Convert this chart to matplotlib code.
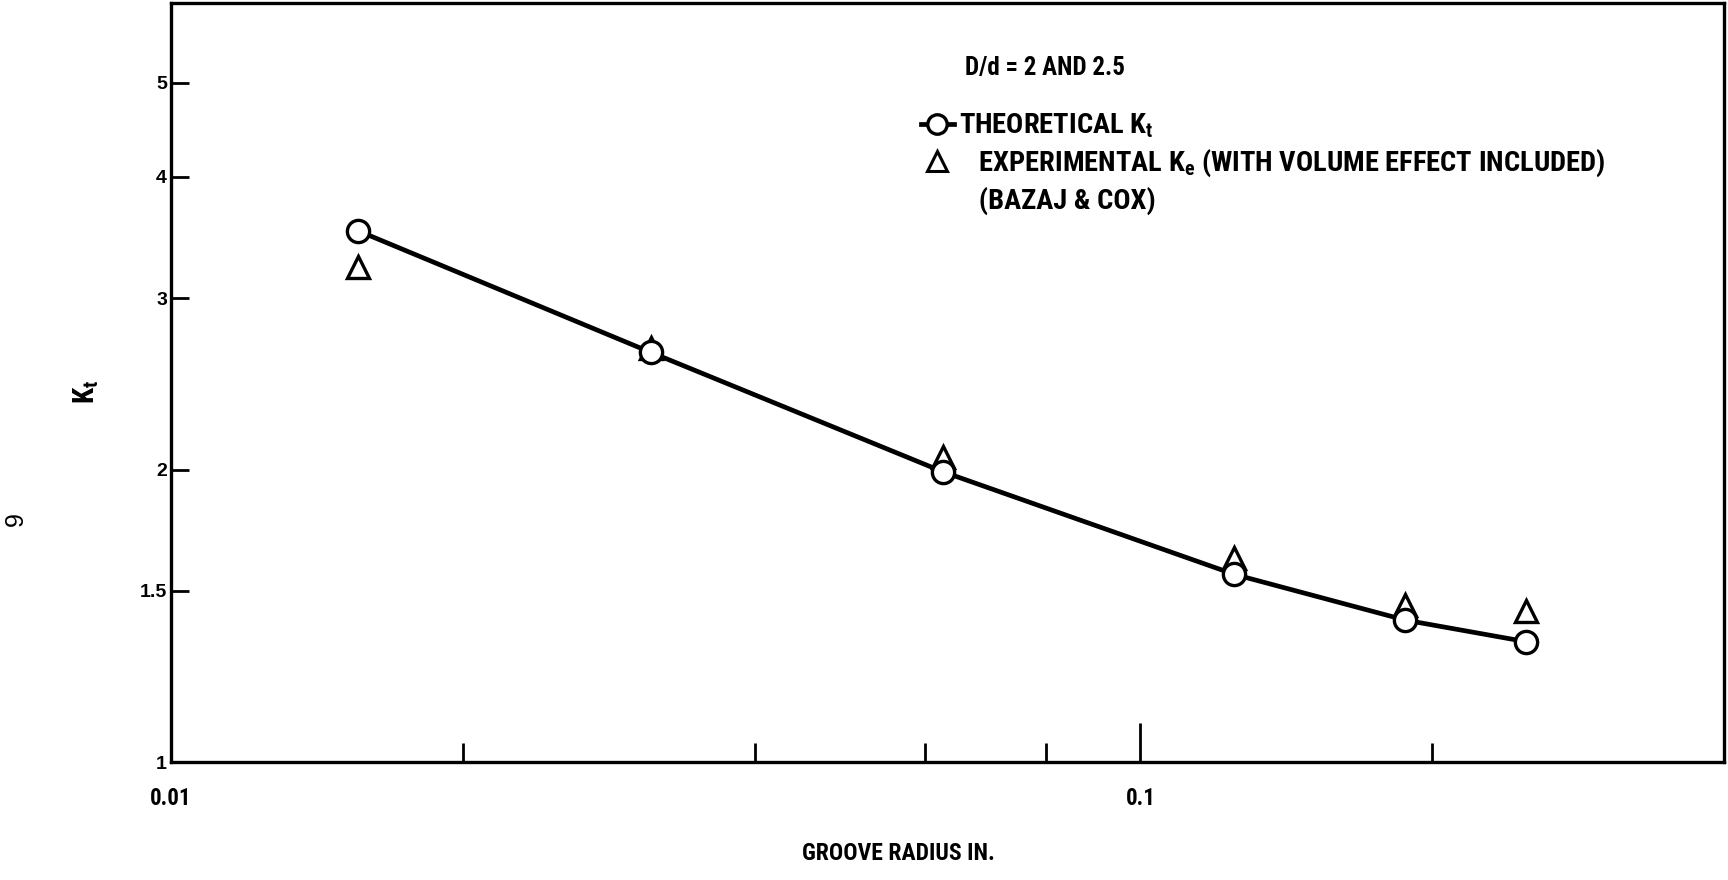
import matplotlib
matplotlib.use("Agg")
import matplotlib.pyplot as plt
from matplotlib.lines import Line2D

COND = ["Roboto Condensed", "Liberation Sans", "DejaVu Sans"]
plt.rcParams["mathtext.fontset"] = "custom"
plt.rcParams["mathtext.rm"] = "Roboto Condensed:bold"
plt.rcParams["mathtext.it"] = "Roboto Condensed:bold"

# groove radius (in.) and stress concentration factors
radius = [0.0156, 0.03125, 0.0625, 0.125, 0.1875, 0.25]
kt_theory = [3.52, 2.64, 1.99, 1.56, 1.40, 1.33]
ke_exper = [3.23, 2.67, 2.06, 1.62, 1.45, 1.43]

ytick_vals = [1, 1.5, 2, 3, 4, 5]
ytick_labels = ["1", "1.5", "2", "3", "4", "5"]
xmajor = [0.01, 0.1]
xmajor_labels = ["0.01", "0.1"]
xminor = [0.02, 0.04, 0.06, 0.08, 0.2]

fig = plt.figure(figsize=(17.28, 8.8), dpi=100)
ax = fig.add_axes([0.099, 0.134, 0.8987, 0.8626])

ax.plot(radius, kt_theory, color="black", lw=3.4, zorder=2)
ax.plot(radius, kt_theory, "o", ms=16, mfc="white", mec="black", mew=2.4, zorder=4)
ax.plot(radius, ke_exper, "^", ms=16, mfc="white", mec="black", mew=2.4, zorder=3)

ax.set_xscale("log")
ax.set_yscale("log")
ax.set_xlim(0.01, 0.4)
ax.set_ylim(1, 6.04)

ax.set_yticks(ytick_vals)
ax.set_yticklabels(ytick_labels)
ax.yaxis.set_minor_locator(matplotlib.ticker.NullLocator())
ax.set_xticks(xmajor)
ax.set_xticklabels(xmajor_labels)
ax.set_xticks(xminor, minor=True)
ax.xaxis.set_minor_formatter(matplotlib.ticker.NullFormatter())

ax.tick_params(axis="y", direction="in", length=13, width=2, pad=3)
ax.tick_params(axis="x", which="major", direction="in", length=28, width=2, pad=18)
ax.tick_params(axis="x", which="minor", direction="in", length=14, width=2)
for s in ax.spines.values():
    s.set_linewidth(2.4)

for lab in ax.get_yticklabels():
    lab.set_fontfamily(["Liberation Sans", "DejaVu Sans"])
    lab.set_fontweight("bold")
    lab.set_fontsize(14)
for lab in ax.get_xticklabels():
    lab.set_fontfamily(COND)
    lab.set_fontweight("bold")
    lab.set_fontsize(16.5)

fig.text(0.52, 0.03, "GROOVE RADIUS IN.", family=COND, weight="bold",
         fontsize=17, ha="center", va="center")
fig.text(0.05, 0.555, r"$\mathrm{K_t}$", family=COND, fontsize=21,
         rotation=90, ha="center", va="center")
fig.text(0.009, 0.41, "9", family=["Liberation Sans", "DejaVu Sans"], fontsize=18,
         rotation=90, ha="center", va="center")

ax.text(0.5115, 0.915, "D/d = 2 AND 2.5", transform=ax.transAxes, family=COND,
        weight="bold", fontsize=18, va="center")

handles = [
    Line2D([], [], color="black", lw=3.4, marker="o", ms=14, mfc="white", mec="black", mew=2.4),
    Line2D([], [], ls="none", marker="^", ms=14, mfc="white", mec="black", mew=2.2),
    Line2D([], [], ls="none"),
]
labels = [
    r"THEORETICAL $\mathrm{K_t}$",
    "   EXPERIMENTAL $\\mathrm{K_e}$ (WITH VOLUME EFFECT INCLUDED)",
    "   (BAZAJ & COX)",
]
ax.legend(handles, labels, loc="upper left", bbox_to_anchor=(0.4755, 0.872),
          frameon=False, handlelength=1.15, handletextpad=0.2,
          labelspacing=0.27, borderaxespad=0,
          prop={"family": COND, "weight": "bold", "size": 20.5})

fig.savefig("out.png", dpi=100)
